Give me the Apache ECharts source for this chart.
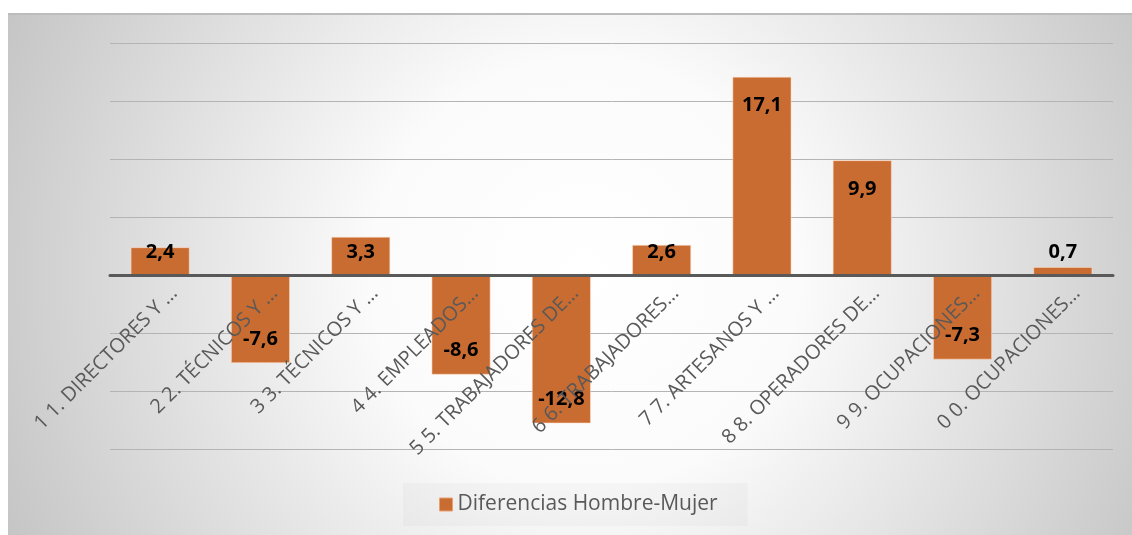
<!DOCTYPE html>
<html><head><meta charset="utf-8">
<script src="https://cdn.jsdelivr.net/npm/echarts@6/dist/echarts.min.js"></script>
<style>html,body{margin:0;padding:0;background:#fff}#c{width:1132px;height:535px}</style>
</head><body><div id="c"></div>
<script>
const categories = [
  '1 1. DIRECTORES Y …',
  '2 2. TÉCNICOS Y …',
  '3 3. TÉCNICOS Y …',
  '4 4. EMPLEADOS…',
  '5 5. TRABAJADORES DE…',
  '6 6. TRABAJADORES…',
  '7 7. ARTESANOS Y …',
  '8 8. OPERADORES DE…',
  '9 9. OCUPACIONES…',
  '0 0. OCUPACIONES…'
];
const values = [2.4, -7.6, 3.3, -8.6, -12.8, 2.6, 17.1, 9.9, -7.3, 0.7];
const seriesName = 'Diferencias Hombre-Mujer';
const yMin = -15, yMax = 20, yStep = 5;

const barColor = '#C96C31';
const textGray = '#595959';
const fmt = v => v.toFixed(1).replace('.', ',');

const chart = echarts.init(document.getElementById('c'), null, {renderer: 'canvas'});

function buildOption(labelDist, axisMargin) {
  return {
    animation: false,
    graphic: {
      elements: [
        {
          type: 'rect', z: -100, silent: true,
          shape: {x: 8, y: 13, width: 1124, height: 522},
          style: {
            fill: {
              type: 'radial', x: 0.513, y: 0.5, r: 1.245,
              colorStops: [
                {offset: 0, color: '#ffffff'},
                {offset: 0.33, color: '#fbfbfb'},
                {offset: 1, color: '#c3c3c3'}
              ]
            }
          }
        },
        {
          type: 'rect', z: -99, silent: true,
          shape: {x: 8, y: 13, width: 1124, height: 2},
          style: {fill: '#bcbcbc'}
        }
      ]
    },
    grid: {left: 110, right: 19, top: 43, bottom: 86, containLabel: false, outerBoundsMode: 'none'},
    legend: {
      data: [seriesName],
      left: 403, top: 483,
      icon: 'rect', itemWidth: 13, itemHeight: 13, itemGap: 7,
      backgroundColor: 'rgba(0,0,0,0.025)',
      padding: [11, 30, 11, 36],
      textStyle: {color: textGray, fontFamily: 'Open Sans', fontSize: 21},
      itemStyle: {borderColor: '#e8a070', borderWidth: 1}
    },
    xAxis: {
      type: 'category',
      data: categories,
      z: 10,
      axisLine: {onZero: true, lineStyle: {color: '#595959', width: 3}},
      axisTick: {show: false},
      axisLabel: {
        interval: 0, rotate: 45, margin: axisMargin, hideOverlap: false,
        align: 'right', verticalAlign: 'top', lineHeight: 40,
        color: textGray, fontFamily: 'Open Sans', fontSize: 20
      }
    },
    yAxis: {
      type: 'value', min: yMin, max: yMax, interval: yStep,
      axisLine: {show: false}, axisTick: {show: false},
      axisLabel: {show: false},
      splitLine: {lineStyle: {color: '#b4b4b4', width: 1}}
    },
    series: [{
      name: seriesName,
      type: 'bar',
      data: values.map((v, i) => ({
        value: v,
        label: {
          position: v >= 0 ? 'insideTop' : 'insideBottom',
          distance: labelDist ? labelDist[i] : 5
        }
      })),
      barWidth: '59%',
      itemStyle: {color: barColor, borderColor: 'rgba(255,220,200,0.55)', borderWidth: 1},
      label: {
        show: true,
        formatter: p => fmt(p.value),
        color: '#000', fontWeight: 'bold', fontFamily: 'Open Sans', fontSize: 20,
        lineHeight: 20
      }
    }]
  };
}

chart.setOption(buildOption(null, 1));
// label placement derived from the axis scale (Excel "inside end" with clamping)
const yZero = chart.convertToPixel({yAxisIndex: 0}, 0);
const yBottom = chart.convertToPixel({yAxisIndex: 0}, yMin);
const dists = values.map(v => {
  const yv = chart.convertToPixel({yAxisIndex: 0}, v);
  if (v >= 0) {
    const center = Math.min(yv + 29, yZero - 23);
    return center - yv - 10;
  }
  return 14;
});
chart.setOption(buildOption(dists, 1 - (yBottom - yZero)));
</script>
</body></html>
